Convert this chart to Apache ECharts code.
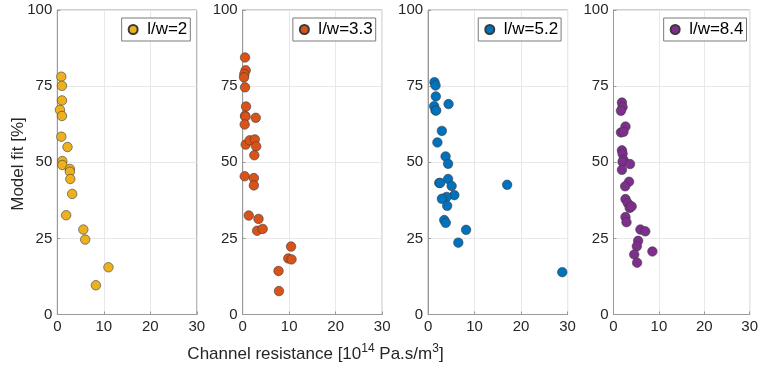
<!DOCTYPE html>
<html>
<head>
<meta charset="utf-8">
<script src="https://cdn.jsdelivr.net/npm/echarts@6/dist/echarts.min.js"></script>
<style>
html,body{margin:0;padding:0;background:#fff;}
#chart{width:761px;height:367px;}
</style>
</head>
<body>
<div id="chart"></div>
<script>
// ---- Data ----
var groups = ['l/w=2', 'l/w=3.3', 'l/w=5.2', 'l/w=8.4'];
var colors = ['#EDB120', '#D95319', '#0072BD', '#7E2F8E'];
var xTicks = [0, 10, 20, 30];
var yTicks = [0, 25, 50, 75, 100];

var resistance_lw2 = [0.86, 1.0, 1.0, 0.57, 1.0, 0.86, 2.2, 1.08, 1.08, 2.7, 2.7, 2.8, 3.2, 1.9, 5.6, 6.0, 11.0, 8.3];
var fit_lw2        = [78.1, 75.1, 70.3, 67.2, 65.2, 58.4, 55.0, 50.4, 49.1, 47.8, 46.9, 44.5, 39.6, 32.6, 27.9, 24.6, 15.5, 9.6];

var resistance_lw33 = [0.5, 0.64, 0.36, 0.29, 0.5, 0.72, 0.5, 0.6, 0.43, 2.8, 0.64, 1.5, 2.6, 2.9, 2.5, 0.43, 2.4, 2.4, 1.3, 3.4, 3.1, 4.3, 10.4, 9.8, 10.5, 7.7, 7.8];
var fit_lw33        = [84.4, 80.2, 79.0, 77.9, 74.6, 68.3, 65.2, 65.0, 62.4, 64.6, 55.8, 57.2, 57.5, 55.2, 52.3, 45.4, 44.8, 42.4, 32.5, 31.4, 27.5, 28.1, 22.3, 18.4, 18.1, 14.3, 7.7];

var resistance_lw52 = [1.37, 1.6, 1.66, 1.3, 1.6, 1.74, 4.4, 2.96, 2.0, 3.76, 4.3, 2.4, 2.6, 4.3, 5.06, 5.64, 3.98, 2.96, 4.1, 3.47, 3.8, 8.17, 6.5, 17.0, 28.85];
var fit_lw52        = [76.3, 75.2, 71.6, 68.4, 67.0, 67.0, 69.1, 60.3, 56.5, 51.9, 49.5, 43.2, 43.2, 44.5, 42.2, 39.2, 38.6, 38.0, 35.7, 31.0, 30.1, 27.8, 23.6, 42.6, 13.9];

var resistance_lw84 = [1.86, 2.0, 1.64, 2.64, 1.64, 2.2, 1.86, 2.0, 2.2, 2.0, 1.86, 3.64, 3.43, 2.57, 2.64, 3.14, 3.57, 4.0, 2.64, 2.86, 5.93, 7.0, 5.43, 5.14, 4.57, 5.2, 8.57];
var fit_lw84        = [69.6, 68.1, 66.9, 61.7, 59.8, 60.0, 53.9, 52.8, 50.8, 50.1, 47.5, 49.4, 43.6, 42.1, 37.9, 36.6, 35.0, 35.5, 32.0, 30.3, 27.9, 27.3, 24.2, 22.4, 19.7, 17.0, 20.7];

var xs = [resistance_lw2, resistance_lw33, resistance_lw52, resistance_lw84];
var ys = [fit_lw2, fit_lw33, fit_lw52, fit_lw84];

// ---- Layout ----
var W = 761;
var gridLeft0 = 57.3, gridStep = 185.4, gridW = 139.5, gridTop = 10, gridH = 304.5;
var font = 'Liberation Sans, Arial, Helvetica, sans-serif';
var textColor = '#262626';

var grids = [], xAxes = [], yAxes = [], series = [], legends = [];
for (var i = 0; i < 4; i++) {
  var left = gridLeft0 + gridStep * i;
  grids.push({left: left, top: gridTop, width: gridW, height: gridH,
    show: true, borderColor: '#9a9a9a', borderWidth: 1, backgroundColor: '#fff'});
  xAxes.push({type: 'value', gridIndex: i, min: xTicks[0], max: xTicks[xTicks.length - 1], interval: 10,
    axisLine: {show: true, lineStyle: {color: '#9a9a9a'}},
    axisTick: {show: true, inside: true, length: 3, lineStyle: {color: '#9a9a9a'}},
    splitLine: {show: true, lineStyle: {color: '#e8e8e8', width: 1}},
    axisLabel: {color: textColor, fontSize: 15, fontFamily: font, margin: 5}});
  yAxes.push({type: 'value', gridIndex: i, min: yTicks[0], max: yTicks[yTicks.length - 1], interval: 25,
    axisLine: {show: true, lineStyle: {color: '#9a9a9a'}},
    axisTick: {show: true, inside: true, length: 3, lineStyle: {color: '#9a9a9a'}},
    splitLine: {show: true, lineStyle: {color: '#e8e8e8', width: 1}},
    axisLabel: {color: textColor, fontSize: 15, fontFamily: font, margin: 5}});
  var pts = xs[i].map(function (x, k) { return [x, ys[i][k]]; });
  series.push({type: 'scatter', name: groups[i], xAxisIndex: i, yAxisIndex: i, data: pts,
    symbol: 'circle', symbolSize: 9.5,
    itemStyle: {color: colors[i], borderColor: '#3a3a3a', borderWidth: 0.6, opacity: 1},
    emphasis: {disabled: true}});
  legends.push({data: [groups[i]], right: W - (left + gridW - 6.5), top: 18,
    orient: 'vertical', icon: 'circle', itemWidth: 16, itemHeight: 9,
    padding: [3, 3, 3, 6], borderColor: '#7a7a7a', borderWidth: 1, backgroundColor: '#fff',
    textStyle: {color: '#000', fontSize: 17, fontFamily: font, padding: [0, 0, 0, 1]}, selectedMode: false});
}

var chart = echarts.init(document.getElementById('chart'), null, {renderer: 'canvas'});
chart.setOption({
  animation: false,
  backgroundColor: '#fff',
  grid: grids, xAxis: xAxes, yAxis: yAxes, series: series, legend: legends,
  graphic: [
    {type: 'text', x: 315.5, y: 354, z: 10, style: {
      text: '{a|Channel resistance [10}{s|14}{a| Pa.s/m}{s|3}{a|]}',
      textAlign: 'center', textVerticalAlign: 'middle',
      rich: {
        a: {fontSize: 17, fontFamily: font, fill: textColor, color: textColor},
        s: {fontSize: 12, fontFamily: font, fill: textColor, color: textColor, padding: [0, 0, 10, 0]}
      }
    }},
    {type: 'text', x: 18, y: 164, rotation: Math.PI / 2, z: 10, style: {
      text: 'Model fit [%]', fontSize: 17, fontFamily: font, fill: textColor,
      textAlign: 'center', textVerticalAlign: 'middle'
    }}
  ]
});
</script>
</body>
</html>
